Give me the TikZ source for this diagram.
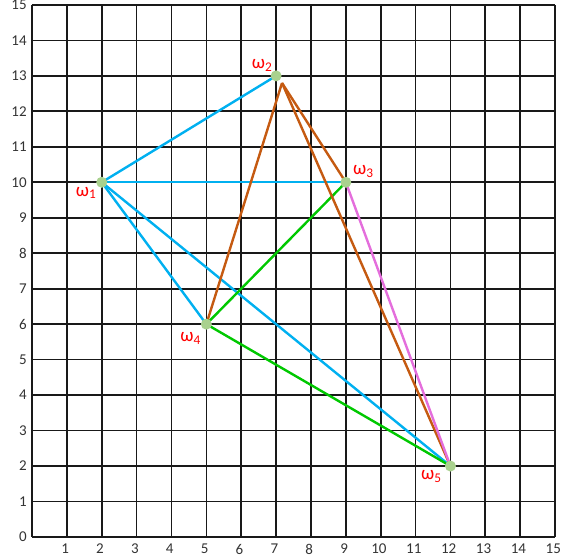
\documentclass[tikz,border=0pt]{standalone}
\usepackage{fontspec}
\setmainfont{Carlito}
\begin{document}
\begin{tikzpicture}[x=34.87pt,y=35.47pt,
  gridline/.style={line width=1.7pt,black!90},
  tick/.style={font=\fontsize{15}{15}\selectfont,text=black!80,inner sep=1pt},
  blueline/.style={line width=2.4pt,color={rgb,255:red,0;green,176;blue,240}},
  brownline/.style={line width=2.4pt,color={rgb,255:red,197;green,90;blue,17}},
  greenline/.style={line width=2.4pt,color={rgb,255:red,0;green,200;blue,0}},
  pinkline/.style={line width=2.4pt,color={rgb,255:red,228;green,110;blue,220}},
  dot/.style={circle,fill={rgb,255:red,169;green,209;blue,142},minimum size=11pt,inner sep=0pt},
  wlab/.style={text=red,font=\fontsize{19}{19}\selectfont,inner sep=0pt}]
\useasboundingbox (-0.9177,-0.6484) rectangle (15.572,15.139);
\foreach \i in {0,...,15} {
  \draw[gridline] (\i,0) -- (\i,15);
  \draw[gridline] (0,\i) -- (15,\i);
}
\foreach \i in {0,...,15} \node[tick,anchor=east] (ly\i) at (-0.12,\i) {\i};
\foreach \i in {1,...,15} \node[tick] (lx\i) at (\i-0.05,-0.34) {\i};
\coordinate (p1) at (2,10);
\coordinate (p2) at (7,13);
\coordinate (p3) at (9,10);
\coordinate (p4) at (5,6);
\coordinate (p5) at (12,2);
\coordinate (p2b) at (7.17,12.8);
% blue
\draw[blueline] (p1) -- (p2);
\draw[blueline] (p1) -- (p3);
\draw[blueline] (p1) -- (p4);
\draw[blueline] (p1) -- (p5);
% green
\draw[greenline] (p4) -- (p3);
\draw[greenline] (p4) -- (p5);
% brown
\draw[brownline] (p2b) -- (p4);
\draw[brownline] (p2b) -- (p3);
\draw[brownline] (p2b) -- (p5);
% pink
\draw[pinkline] (p3) -- (p5);
\node[dot] (w1) at (p1) {};
\node[dot] (w2) at (p2) {};
\node[dot] (w3) at (p3) {};
\node[dot] (w4) at (p4) {};
\node[dot] (w5) at (p5) {};
\node[wlab] (t1) at (1.55,9.7) {ω\textsubscript{1}};
\node[wlab] (t2) at (6.6,13.3) {ω\textsubscript{2}};
\node[wlab] (t3) at (9.5,10.3) {ω\textsubscript{3}};
\node[wlab] (t4) at (4.55,5.6) {ω\textsubscript{4}};
\node[wlab] (t5) at (11.45,1.7) {ω\textsubscript{5}};
\end{tikzpicture}
\end{document}
